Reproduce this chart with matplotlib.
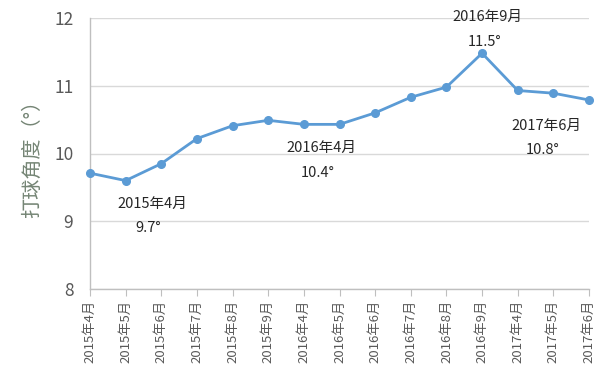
import matplotlib
matplotlib.use("Agg")
import matplotlib.pyplot as plt

plt.rcParams['font.family'] = ['Noto Sans CJK SC', 'DejaVu Sans']

months = ["2015年4月", "2015年5月", "2015年6月", "2015年7月", "2015年8月", "2015年9月",
          "2016年4月", "2016年5月", "2016年6月", "2016年7月", "2016年8月", "2016年9月",
          "2017年4月", "2017年5月", "2017年6月"]
angles = [9.71, 9.60, 9.85, 10.22, 10.41, 10.49, 10.43, 10.43, 10.60, 10.83, 10.98, 11.48,
          10.93, 10.89, 10.79]
yticks = [8, 9, 10, 11, 12]

# annotation texts: (label, value text, x, y of label, y of value)
notes = [
    ("2015年4月", "9.7°", 1.74, 9.26, 8.90),
    ("2016年4月", "10.4°", 6.5, 10.08, 9.71),
    ("2016年9月", "11.5°", 11.16, 12.01, 11.65),
    ("2017年6月", "10.8°", 12.8, 10.41, 10.05),
]

fig = plt.figure(figsize=(6.05, 3.78), dpi=100)
ax = fig.add_axes([90/605, 1-289/378, (589-90)/605, (289-18)/378])

x = list(range(len(months)))
ax.plot(x, angles, color='#5b9bd5', lw=2, marker='o', ms=5.5, zorder=3, clip_on=False)

ax.set_xlim(0, len(months)-1)
ax.set_ylim(8, 12)
ax.set_yticks(yticks)
ax.set_yticklabels([str(v) for v in yticks], fontsize=12.5, color='#595959')
ax.set_xticks(x)
ax.set_xticklabels(months, rotation=90, fontsize=9.5, color='#595959')
ax.tick_params(axis='y', length=0, pad=12)
ax.tick_params(axis='x', length=5, color='#bfbfbf', pad=3)
ax.grid(axis='y', color='#d9d9d9', lw=1)
ax.set_axisbelow(True)
for s in ['top', 'right']:
    ax.spines[s].set_visible(False)
for s in ['left', 'bottom']:
    ax.spines[s].set_color('#bfbfbf')
    ax.spines[s].set_linewidth(1)

ax.set_ylabel("打球角度（°）", fontsize=14.5, color='#758575')
ax.yaxis.set_label_coords(-0.094, 0.5)

for lab, val, xx, y1, y2 in notes:
    ax.text(xx, y1, lab, ha='center', va='center', fontsize=10.5, color='#262626')
    ax.text(xx - 0.1, y2, val, ha='center', va='center', fontsize=10.5, color='#262626')

fig.savefig("out.png", dpi=100)
